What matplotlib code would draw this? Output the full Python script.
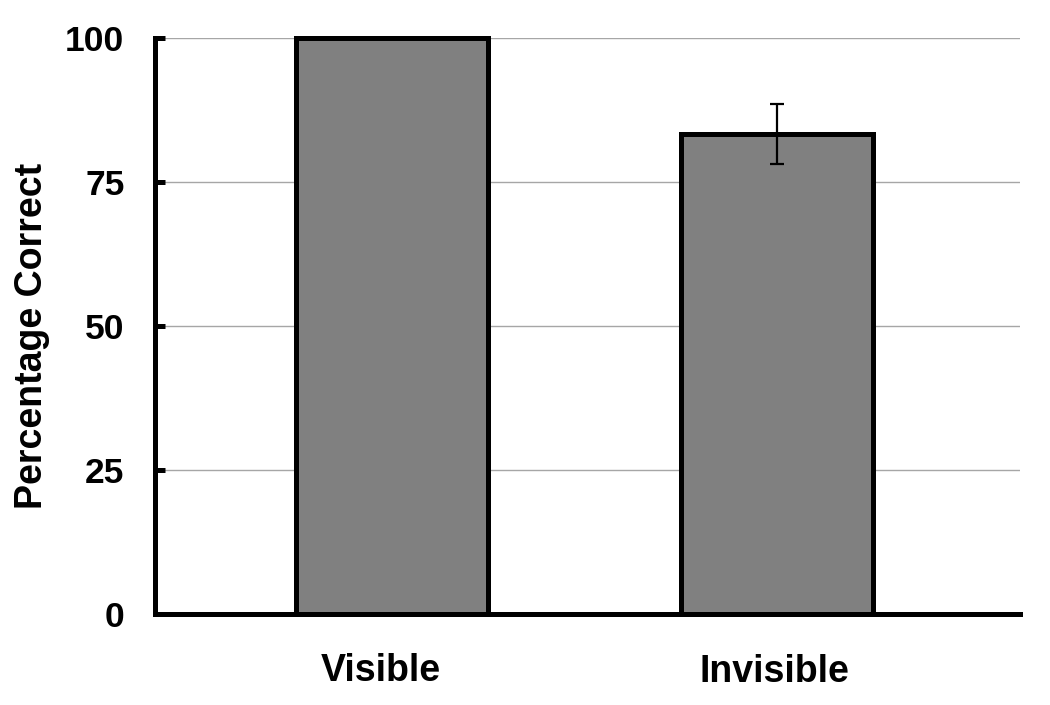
import numpy as np
import matplotlib.pyplot as plt

# data
categories = ["Visible", "Invisible"]
values = [100.0, 83.3]
errors = [0.0, 5.2]
yticks = [0, 25, 50, 75, 100]

plt.rcParams['font.family'] = ['Liberation Sans', 'DejaVu Sans']
plt.rcParams['font.weight'] = 'bold'

fig = plt.figure(figsize=(10.5, 7.05), dpi=100)
ax = fig.add_axes([0.1476, 0.129, 0.8238, 0.817])

x = np.arange(len(categories))
ax.bar(x, values, width=0.5, color='#808080', edgecolor='black',
       linewidth=3.6, zorder=3, clip_on=False)
err_x = [xi for xi, e in zip(x, errors) if e > 0]
err_v = [v for v, e in zip(values, errors) if e > 0]
err_e = [e for e in errors if e > 0]
ax.errorbar(err_x, err_v, yerr=err_e, fmt='none', ecolor='black',
            elinewidth=1.6, capsize=5, capthick=1.6, zorder=4)

ax.set_xlim(-0.616, 1.631)
ax.set_ylim(0, 100)
ax.set_yticks(yticks)
ax.set_yticklabels([str(t) for t in yticks], fontsize=25.5, fontweight='bold')
ax.set_xticks(x)
ax.set_xticklabels([])

# category labels sit a little left of the bar centres in the original
label_offsets = [(-8, -28), (-2, -29)]
for xi, name, (dx, dy) in zip(x, categories, label_offsets):
    ax.annotate(name, xy=(xi, 0), xycoords=('data', 'axes fraction'),
                xytext=(dx, dy), textcoords='offset points',
                ha='center', va='top', fontsize=27, fontweight='bold')

ax.yaxis.grid(True, color='#a6a6a6', linewidth=1.0, zorder=0)
ax.set_axisbelow(True)

for s in ['top', 'right']:
    ax.spines[s].set_visible(False)
for s in ['left', 'bottom']:
    ax.spines[s].set_linewidth(3.6)

ax.tick_params(axis='y', direction='in', length=7, width=3.6, pad=22)
ax.tick_params(axis='x', length=0)

ax.set_ylabel("Percentage Correct", fontsize=27, fontweight='bold')
ax.yaxis.set_label_coords(-0.121, 0.483)

fig.savefig("out.png", dpi=100)
